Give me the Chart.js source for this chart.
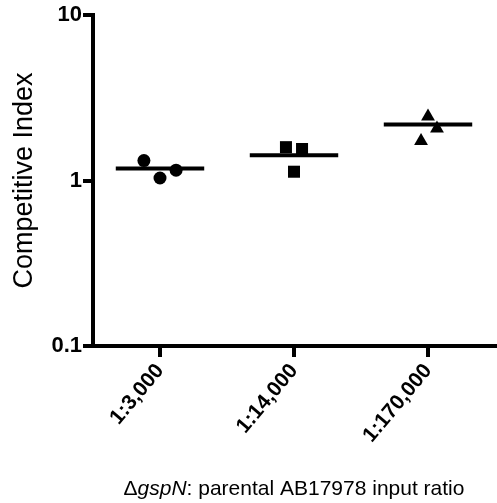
<!DOCTYPE html>
<html>
<head>
<meta charset="utf-8">
<script src="https://cdn.jsdelivr.net/npm/chart.js@4"></script>
<style>
  html, body { margin: 0; padding: 0; background: #fff; }
  #wrap { width: 497px; height: 503px; }
</style>
</head>
<body>
<div id="wrap"><canvas id="ci-chart" width="497" height="503"></canvas></div>
<script>
// data
const categories = ['1:3,000', '1:14,000', '1:170,000']
const circleValues = [1.32, 1.035, 1.155]
const squareValues = [1.59, 1.55, 1.13]
const triangleValues = [2.44, 2.06, 1.73]
const meanValues = [1.18, 1.42, 2.18]
// horizontal scatter of the points inside each group (category units)
const xJitter = [[-0.12, 0, 0.12], [-0.06, 0.06, 0], [0, 0.067, -0.052]]
const yTicks = [0.1, 1, 10]

function groupPoints(values, group){
    return values.map((v, i) => ({x: group + xJitter[group][i], y: v}))
}

let meanSets = meanValues.map((m, i) => ({
    type: 'line',
    data: [{x: i - 0.33, y: m}, {x: i + 0.33, y: m}],
    borderColor: '#000',
    borderWidth: 4,
    pointRadius: 0,
    borderCapStyle: 'butt'
}))

// x title has an italic part, so draw it by hand
const xTitle = {
    id: 'xTitle',
    afterDraw(chart){
        let ctx = chart.ctx
        let parts = [
            ['Δ', 'normal'],
            ['gspN', 'italic'],
            [': parental AB17978 input ratio', 'normal']
        ]
        ctx.save()
        ctx.fillStyle = '#000'
        ctx.textBaseline = 'middle'
        let total = 0
        for(let p of parts){
            ctx.font = p[1] + ' 21px "Liberation Sans", Arial, sans-serif'
            total += ctx.measureText(p[0]).width
        }
        let x = (chart.chartArea.left + chart.chartArea.right) / 2 - total / 2
        for(let p of parts){
            ctx.font = p[1] + ' 21px "Liberation Sans", Arial, sans-serif'
            ctx.textAlign = 'left'
            ctx.fillText(p[0], x, 489)
            x += ctx.measureText(p[0]).width
        }
        ctx.restore()
    }
}

let ctx = document.getElementById('ci-chart').getContext('2d')
let chart = new Chart(ctx, {
    type: 'scatter',
    data: {
        datasets: [
            {data: groupPoints(circleValues, 0), pointStyle: 'circle', pointRadius: 6.5,
             backgroundColor: '#000', borderColor: '#000', borderWidth: 0},
            {data: groupPoints(squareValues, 1), pointStyle: 'rect', pointRadius: 8.5,
             backgroundColor: '#000', borderColor: '#000', borderWidth: 0},
            {data: groupPoints(triangleValues, 2), pointStyle: 'triangle', pointRadius: 8,
             backgroundColor: '#000', borderColor: '#000', borderWidth: 0},
            ...meanSets
        ]
    },
    options: {
        responsive: false,
        animation: false,
        layout: {autoPadding: false, padding: {top: 15, right: 2, left: 0, bottom: 0}},
        plugins: {legend: {display: false}, tooltip: {enabled: false}},
        scales: {
            x: {
                type: 'linear',
                min: -0.5,
                max: 2.5,
                afterBuildTicks: (scale) => { scale.ticks = categories.map((c, i) => ({value: i})) },
                afterFit: (scale) => {
                    scale.height = 157
                    scale.paddingLeft = 0
                    scale.paddingRight = 0
                },
                border: {display: true, color: '#000', width: 4},
                grid: {display: true, drawOnChartArea: false, drawTicks: true, tickLength: 11, color: '#000', lineWidth: 4},
                ticks: {
                    color: '#000',
                    minRotation: 50,
                    maxRotation: 50,
                    padding: 2,
                    font: {family: '"Liberation Sans", Arial, sans-serif', size: 21, weight: 'bold'},
                    callback: (v) => categories[v]
                }
            },
            y: {
                type: 'logarithmic',
                min: 0.1,
                max: 10,
                afterBuildTicks: (scale) => { scale.ticks = yTicks.map((v) => ({value: v})) },
                afterFit: (scale) => { scale.width = 93 },
                border: {display: true, color: '#000', width: 4},
                grid: {display: true, drawOnChartArea: false, drawTicks: true, tickLength: 10, color: '#000', lineWidth: 4},
                ticks: {
                    color: '#000',
                    padding: 1,
                    font: {family: '"Liberation Sans", Arial, sans-serif', size: 22, weight: 'bold'},
                    callback: (v) => String(v)
                },
                title: {
                    display: true,
                    text: 'Competitive Index',
                    color: '#000',
                    padding: {top: 8, bottom: 0},
                    font: {family: '"Liberation Sans", Arial, sans-serif', size: 27, weight: 'normal'}
                }
            }
        }
    },
    plugins: [xTitle]
})
</script>
</body>
</html>
